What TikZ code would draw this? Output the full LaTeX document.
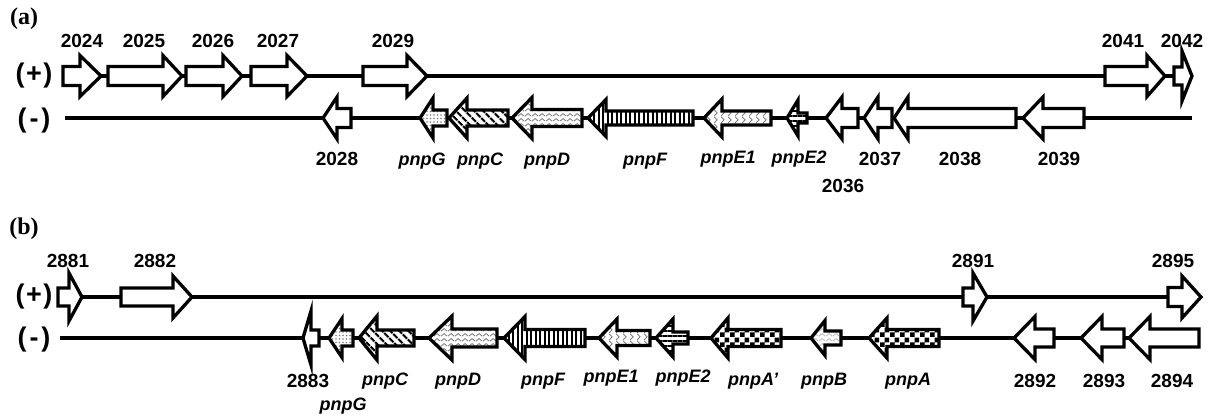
\documentclass[tikz,border=0pt]{standalone}
\usepackage{fontspec}
\setmainfont{Liberation Sans}
\newfontfamily\serifbf{Liberation Serif}
\usetikzlibrary{patterns,patterns.meta}

\pgfdeclarepattern{name=wavyz, type=uncolored,
  bottom left={\pgfpoint{0pt}{0pt}}, top right={\pgfpoint{7pt}{5pt}},
  tile size={\pgfpoint{7pt}{5pt}},
  code={\pgfsetlinewidth{1pt}
    \pgfpathmoveto{\pgfpoint{0pt}{1pt}}
    \pgfpathlineto{\pgfpoint{3.5pt}{4pt}}
    \pgfpathlineto{\pgfpoint{7pt}{1pt}}
    \pgfusepath{stroke}}}
\pgfdeclarepattern{name=chev, type=uncolored,
  bottom left={\pgfpoint{0pt}{0pt}}, top right={\pgfpoint{7pt}{7pt}},
  tile size={\pgfpoint{7pt}{7pt}},
  code={\pgfsetlinewidth{1.1pt}
    \pgfpathmoveto{\pgfpoint{0pt}{0pt}}
    \pgfpathlineto{\pgfpoint{3.5pt}{3.5pt}}
    \pgfpathlineto{\pgfpoint{0pt}{7pt}}
    \pgfusepath{stroke}}}
\pgfdeclarepattern{name=checks, type=uncolored,
  bottom left={\pgfpoint{0pt}{0pt}}, top right={\pgfpoint{10pt}{10pt}},
  tile size={\pgfpoint{10pt}{10pt}},
  code={\pgfpathrectangle{\pgfpoint{0pt}{0pt}}{\pgfpoint{5pt}{5pt}}
    \pgfpathrectangle{\pgfpoint{5pt}{5pt}}{\pgfpoint{5pt}{5pt}}
    \pgfusepath{fill}}}

\tikzset{
  genebox/.style={line width=3.3pt, line join=miter, miter limit=10, preaction={fill=white}},
  strand/.style={line width=3.3pt},
  num/.style={font=\fontsize{19}{21}\selectfont\bfseries, anchor=base, inner sep=0pt},
  gname/.style={font=\fontsize{18}{20}\selectfont\bfseries\itshape, anchor=base, inner sep=0pt},
  strandlab/.style={font=\fontsize{27}{29}\selectfont\bfseries, inner sep=0pt},
  panellab/.style={font=\serifbf\fontsize{24}{26}\selectfont\bfseries, inner sep=0pt},
  pG/.style={pattern={Dots[distance=3.5pt,radius=0.8pt]}, pattern color=gray},
  pC/.style={pattern={Lines[angle=-45,distance=6.5pt,line width=2.6pt]}},
  pD/.style={pattern=wavyz, pattern color=gray},
  pF/.style={pattern={Lines[angle=90,distance=4.5pt,line width=2pt]}},
  pE1/.style={pattern=chev, pattern color=gray},
  pE2/.style={pattern={Lines[angle=0,distance=5pt,line width=1.8pt]}},
  pA/.style={pattern=checks},
  pB/.style={pattern=wavyz, pattern color=lightgray},
}

% #1 name, #2 style, #3 tail x, #4 head base x, #5 tip x, #6 y, #7 body half, #8 head half
\newcommand\gene[8]{%
  \draw[genebox,#2] (#3,#6-#7) -- (#4,#6-#7) -- (#4,#6-#8) -- (#5,#6)
    -- (#4,#6+#8) -- (#4,#6+#7) -- (#3,#6+#7) -- cycle;
  \coordinate (#1) at (#5,#6);}

\begin{document}
\begin{tikzpicture}[x=1pt,y=-1pt]
\useasboundingbox (0,0) rectangle (1213,416);

% ---------------- panel (a) ----------------
\node[panellab] (pa) at (24,19) {(a)};
\node[strandlab] (apl) at (34,76) {(\kern1.5pt+\kern1.5pt)};
\node[strandlab] (aml) at (34,121) {(\kern3pt-\kern3pt)};

\coordinate (apS) at (63,76);
\coordinate (apE) at (1192,76);
\coordinate (amS) at (65,118);
\coordinate (amE) at (1192,118);
\draw[strand] (apS) -- (apE);
\draw[strand] (amS) -- (amE);

\gene{a2024}{}{63}{80}{101}{76}{9.5}{20.5}
\gene{a2025}{}{108}{163}{182}{76}{9.5}{20.5}
\gene{a2026}{}{186}{223}{242}{76}{9.5}{20.5}
\gene{a2027}{}{251}{287}{307}{76}{9.5}{20.5}
\gene{a2029}{}{363}{407}{427}{76}{9.5}{20.5}
\gene{a2041}{}{1105}{1147}{1165}{76}{9.5}{20.5}
\gene{a2042}{}{1174}{1182}{1192}{76}{9}{25}

\gene{a2028}{}{351}{337}{323}{118}{9.5}{21}
\gene{apnpG}{pG}{447}{433}{420}{118}{8}{20}
\gene{apnpC}{pC}{508}{467}{449}{118}{8}{20}
\gene{apnpD}{pD}{582}{532}{512}{118}{8.5}{20.5}
\gene{apnpF}{pF}{693}{606}{588}{118}{7}{18.5}
\gene{apnpE1}{pE1}{771}{722}{704}{118}{7}{19}
\gene{apnpE2}{pE2}{807}{798}{787}{118}{5}{18}
\gene{a2036}{}{858}{842}{826}{118}{9.5}{21}
\gene{a2037}{}{892}{878}{864}{118}{9.5}{21}
\gene{a2038}{}{1016}{908}{894}{118}{9.5}{21}
\gene{a2039}{}{1084}{1043}{1023}{118}{9.5}{21}

\node[num] (la2024) at (82,47) {2024};
\node[num] (la2025) at (144,47) {2025};
\node[num] (la2026) at (213,47) {2026};
\node[num] (la2027) at (278,47) {2027};
\node[num] (la2029) at (393,47) {2029};
\node[num] (la2041) at (1123,47) {2041};
\node[num] (la2042) at (1182,47) {2042};

\node[num] (la2028) at (337,165) {2028};
\node[gname] (lapnpG) at (422,165) {pnpG};
\node[gname] (lapnpC) at (480,165) {pnpC};
\node[gname] (lapnpD) at (547,165) {pnpD};
\node[gname] (lapnpF) at (645,165) {pnpF};
\node[gname] (lapnpE1) at (728,163) {pnpE1};
\node[gname] (lapnpE2) at (799,163) {pnpE2};
\node[num] (la2037) at (880,165) {2037};
\node[num] (la2038) at (960,165) {2038};
\node[num] (la2039) at (1059,165) {2039};
\node[num] (la2036) at (843,192) {2036};

% ---------------- panel (b) ----------------
\node[panellab] (pb) at (24,229) {(b)};
\node[strandlab] (bpl) at (34,297) {(\kern1.5pt+\kern1.5pt)};
\node[strandlab] (bml) at (34,340) {(\kern3pt-\kern3pt)};

\coordinate (bpS) at (58,297);
\coordinate (bpE) at (1201,297);
\coordinate (bmS) at (60,338);
\draw[strand] (bpS) -- (bpE);

\gene{b2881}{}{58}{69}{82}{297}{9}{24}
\gene{b2882}{}{121}{173}{192}{297}{9}{21}
\gene{b2891}{}{963}{973}{987}{297}{9}{24}
\gene{b2895}{}{1168}{1182}{1201}{297}{9.5}{21}

\coordinate (b2894t) at (1129,338);
\draw[strand] (bmS) -- (b2894t);

\gene{b2883}{}{319}{311}{303}{338}{8}{27}
\gene{bpnpG}{pG}{353}{342}{329}{338}{8}{19.5}
\gene{bpnpC}{pC}{414}{377}{359}{338}{8}{22}
\gene{bpnpD}{pD}{497}{452}{429}{338}{9}{22}
\gene{bpnpF}{pF}{585}{525}{504}{338}{8.5}{21.5}
\gene{bpnpE1}{pE1}{650}{617}{599}{338}{7.5}{19}
\gene{bpnpE2}{pE2}{688}{673}{656}{338}{6}{19}
\gene{bpnpAp}{pA}{781}{728}{711}{338}{8.5}{20}
\gene{bpnpB}{pB}{841}{825}{811}{338}{7}{17.5}
\gene{bpnpA}{pA}{939}{887}{869}{338}{8.5}{20}
\gene{b2892}{}{1054}{1035}{1014}{338}{9}{21.5}
\gene{b2893}{}{1124}{1102}{1081}{338}{9}{21.5}
\gene{b2894}{}{1199}{1150}{1129}{338}{9}{21.5}

\node[num] (lb2881) at (68,267) {2881};
\node[num] (lb2882) at (155,267) {2882};
\node[num] (lb2891) at (973,267) {2891};
\node[num] (lb2895) at (1173,267) {2895};

\node[num] (lb2883) at (308,387) {2883};
\node[gname] (lbpnpG) at (343,410) {pnpG};
\node[gname] (lbpnpC) at (385,385) {pnpC};
\node[gname] (lbpnpD) at (458,385) {pnpD};
\node[gname] (lbpnpF) at (543,385) {pnpF};
\node[gname] (lbpnpE1) at (611,382) {pnpE1};
\node[gname] (lbpnpE2) at (683,382) {pnpE2};
\node[gname] (lbpnpAp) at (753,385) {pnpA'};
\node[gname] (lbpnpB) at (824,385) {pnpB};
\node[gname] (lbpnpA) at (908,385) {pnpA};
\node[num] (lb2892) at (1035,387) {2892};
\node[num] (lb2893) at (1104,387) {2893};
\node[num] (lb2894) at (1172,387) {2894};
\end{tikzpicture}
\end{document}
